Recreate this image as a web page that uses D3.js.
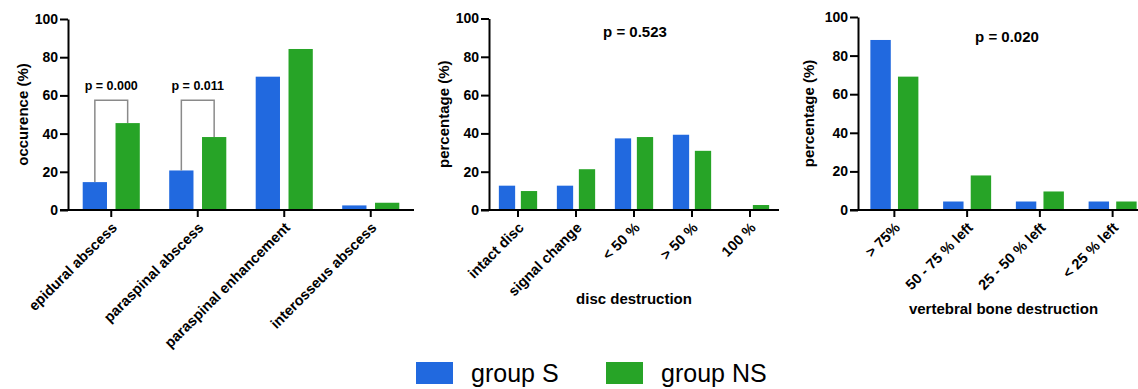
<!DOCTYPE html>
<html>
<head>
<meta charset="utf-8">
<script src="https://cdn.jsdelivr.net/npm/d3@7"></script>
<style>
  body { margin: 0; background: #fff; }
  svg { display: block; font-family: "Liberation Sans", Arial, sans-serif; }
</style>
</head>
<body>
<script>
// data (percent)
const groups = ["group S", "group NS"];
const yTicks = [0, 20, 40, 60, 80, 100];

const abscessCats = ["epidural abscess", "paraspinal abscess", "paraspinal enhancement", "interosseus abscess"];
const abscessS = [14.6, 20.7, 69.8, 2.4];
const abscessNS = [45.5, 38.2, 84.3, 3.8];
const abscessP = [
  { cat: "epidural abscess", top: 57.4, label: "p = 0.000" },
  { cat: "paraspinal abscess", top: 57.4, label: "p = 0.011" }
];

const discCats = ["intact disc", "signal change", "< 50 %", "> 50 %", "100 %"];
const discS = [12.7, 12.7, 37.4, 39.3, 0];
const discNS = [9.9, 21.3, 38.1, 30.9, 2.6];

const boneCats = ["> 75%", "50 - 75 % left", "25 - 50 % left", "< 25 % left"];
const boneS = [88.1, 4.4, 4.4, 4.4];
const boneNS = [69.1, 17.9, 9.6, 4.4];

const colors = { "group S": "#2169df", "group NS": "#27a427" };

const W = 1138, H = 389;
const svg = d3.select("body").append("svg")
  .attr("width", W)
  .attr("height", H);

drawPanel({
  left: 68, right: 414, top: 19, bottom: 210,
  cats: abscessCats, s: abscessS, ns: abscessNS,
  yTitle: "occurence (%)", yTitleX: 23,
  brackets: abscessP
});

drawPanel({
  left: 489, right: 779, top: 18.5, bottom: 210,
  cats: discCats, s: discS, ns: discNS,
  yTitle: "percentage (%)", yTitleX: 444,
  pText: "p = 0.523", pX: 635, pY: 37,
  xTitle: "disc destruction", xTitleY: 304
});

drawPanel({
  left: 858, right: 1149, top: 17, bottom: 210,
  cats: boneCats, s: boneS, ns: boneNS,
  yTitle: "percentage (%)", yTitleX: 809,
  pText: "p = 0.020", pX: 1007, pY: 42,
  xTitle: "vertebral bone destruction", xTitleY: 314
});

appendLegend();

function drawPanel(cfg) {
  const g = svg.append("g");

  const x0 = d3.scaleBand()
    .domain(cfg.cats)
    .range([cfg.left, cfg.right])
    .paddingInner(0.34)
    .paddingOuter(0.17);

  const x1 = d3.scaleBand()
    .domain(groups)
    .range([0, x0.bandwidth()])
    .paddingInner(0.26);

  const y = d3.scaleLinear()
    .domain([0, 100])
    .range([cfg.bottom, cfg.top]);

  const rows = cfg.cats.map((c, i) => ({ cat: c, vals: [
    { group: groups[0], v: cfg.s[i] },
    { group: groups[1], v: cfg.ns[i] }
  ]}));

  // bars
  g.selectAll("g.cat")
    .data(rows)
    .enter().append("g")
    .attr("class", "cat")
    .attr("transform", d => `translate(${x0(d.cat)},0)`)
    .selectAll("rect")
    .data(d => d.vals.filter(v => v.v > 0))
    .enter().append("rect")
    .attr("x", d => x1(d.group))
    .attr("width", x1.bandwidth())
    .attr("y", d => y(d.v))
    .attr("height", d => y(0) - y(d.v))
    .attr("fill", d => colors[d.group]);

  // y axis
  const yAxis = g.append("g")
    .attr("transform", `translate(${cfg.left},0)`)
    .call(d3.axisLeft(y).tickValues(yTicks).tickSize(8).tickSizeOuter(0).tickPadding(2));
  yAxis.selectAll("path, line").attr("stroke", "#000").attr("stroke-width", 2);
  yAxis.selectAll("text")
    .attr("fill", "#000")
    .style("font-size", "14px")
    .style("font-weight", "bold")
    .style("font-family", "'Liberation Sans', Arial, sans-serif");

  // x axis
  const xAxis = g.append("g")
    .attr("transform", `translate(0,${cfg.bottom})`)
    .call(d3.axisBottom(x0).tickSize(7).tickSizeOuter(0).tickFormat(""));
  xAxis.select("path").attr("d", `M${cfg.left - 8},0H${cfg.right}`);
  xAxis.selectAll("path, line").attr("stroke", "#000").attr("stroke-width", 2);

  // rotated category labels
  g.selectAll("text.xlab")
    .data(cfg.cats)
    .enter().append("text")
    .attr("class", "xlab")
    .attr("transform", d => `translate(${x0(d) + x0.bandwidth() / 2 + 3},${cfg.bottom + 15}) rotate(-45)`)
    .attr("text-anchor", "end")
    .attr("dy", "0.35em")
    .style("font-size", "14.5px")
    .style("font-weight", "bold")
    .text(d => d);

  // y title
  g.append("text")
    .attr("transform", `translate(${cfg.yTitleX},${(cfg.top + cfg.bottom) / 2}) rotate(-90)`)
    .attr("text-anchor", "middle")
    .attr("dy", "0.35em")
    .style("font-size", "15px")
    .style("font-weight", "bold")
    .text(cfg.yTitle);

  if (cfg.xTitle) {
    g.append("text")
      .attr("x", (cfg.left + cfg.right) / 2)
      .attr("y", cfg.xTitleY)
      .attr("text-anchor", "middle")
      .style("font-size", "15px")
      .style("font-weight", "bold")
      .text(cfg.xTitle);
  }

  if (cfg.pText) {
    g.append("text")
      .attr("x", cfg.pX)
      .attr("y", cfg.pY)
      .attr("text-anchor", "middle")
      .style("font-size", "15px")
      .style("font-weight", "bold")
      .text(cfg.pText);
  }

  if (cfg.brackets) {
    cfg.brackets.forEach(b => {
      const i = cfg.cats.indexOf(b.cat);
      const xa = x0(b.cat) + x1(groups[0]) + x1.bandwidth() / 2;
      const xb = x0(b.cat) + x1(groups[1]) + x1.bandwidth() / 2;
      g.append("path")
        .attr("d", `M${xa},${y(cfg.s[i])}V${y(b.top)}H${xb}V${y(cfg.ns[i])}`)
        .attr("fill", "none")
        .attr("stroke", "#8a8a8a")
        .attr("stroke-width", 1.5);
      g.append("text")
        .attr("x", (xa + xb) / 2)
        .attr("y", y(b.top) - 10)
        .attr("text-anchor", "middle")
        .style("font-size", "12.5px")
        .style("font-weight", "bold")
        .text(b.label);
    });
  }
}

function appendLegend() {
  const legend = svg.append("g").attr("class", "legend");
  const xs = [416, 606];
  legend.selectAll("rect")
    .data(groups)
    .enter().append("rect")
    .attr("x", (d, i) => xs[i])
    .attr("y", 362)
    .attr("width", 37)
    .attr("height", 22)
    .attr("fill", d => colors[d]);
  legend.selectAll("text")
    .data(groups)
    .enter().append("text")
    .attr("x", (d, i) => xs[i] + 55)
    .attr("y", 382)
    .style("font-size", "25px")
    .text(d => d);
}
</script>
</body>
</html>
